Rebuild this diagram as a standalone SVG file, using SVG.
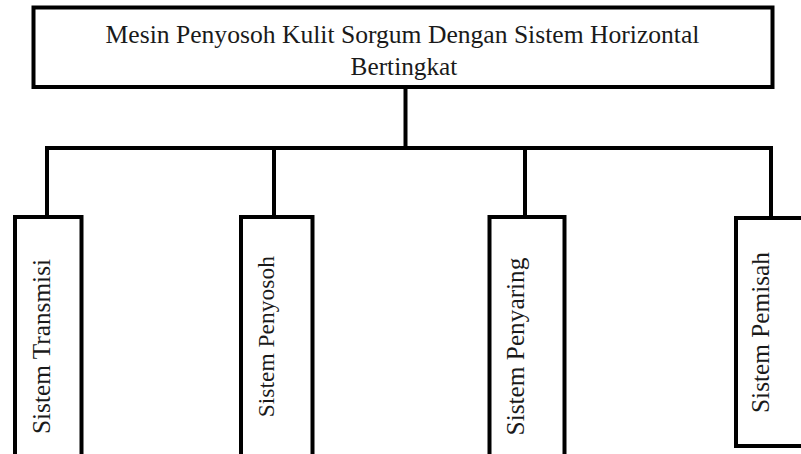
<svg xmlns="http://www.w3.org/2000/svg" width="801" height="454" viewBox="0 0 801 454">
<style>
.box{fill:#fff;stroke:#000;stroke-width:4}
.ln{fill:none;stroke:#000;stroke-width:4}
.t{font-family:"Liberation Serif","Times New Roman",serif;font-size:25.3px;fill:#1a1a1a}
</style>
<rect width="801" height="454" fill="#fff"/>
<g id="connectors">
<line class="ln" x1="405.5" y1="87" x2="405.5" y2="148"/>
<line class="ln" x1="45" y1="148" x2="773" y2="148"/>
<line class="ln" x1="47" y1="148" x2="47" y2="217"/>
<line class="ln" x1="274" y1="148" x2="274" y2="217"/>
<line class="ln" x1="525" y1="148" x2="525" y2="217"/>
<line class="ln" x1="771" y1="148" x2="771" y2="218"/>
</g>
<g id="root">
<rect class="box" x="33.5" y="7.5" width="739" height="79.5"/>
<text class="t" style="font-size:25.6px" x="402.5" y="43" text-anchor="middle">Mesin Penyosoh Kulit Sorgum Dengan Sistem Horizontal</text>
<text class="t" x="404" y="75" text-anchor="middle">Bertingkat</text>
</g>
<g id="n1">
<rect class="box" x="15" y="217" width="66.5" height="245"/>
<text class="t" transform="translate(50,346.5) rotate(-90)" text-anchor="middle">Sistem Transmisi</text>
</g>
<g id="n2">
<rect class="box" x="241" y="217" width="71.5" height="245"/>
<text class="t" style="font-size:23.5px" transform="translate(273.5,336.7) rotate(-90)" text-anchor="middle">Sistem Penyosoh</text>
</g>
<g id="n3">
<rect class="box" x="489.5" y="217" width="75" height="245"/>
<text class="t" transform="translate(524,346.5) rotate(-90)" text-anchor="middle">Sistem Penyaring</text>
</g>
<g id="n4">
<rect class="box" x="736" y="218" width="80" height="228"/>
<text class="t" transform="translate(769,332.5) rotate(-90)" text-anchor="middle">Sistem Pemisah</text>
</g>
</svg>
